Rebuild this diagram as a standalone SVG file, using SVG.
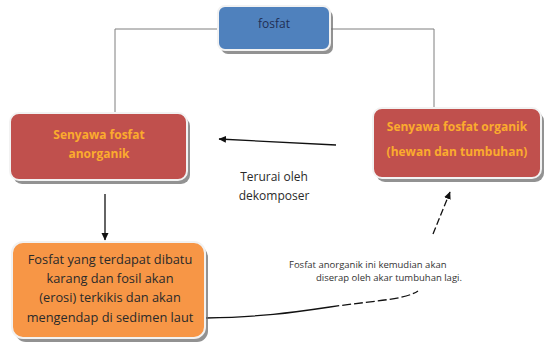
<svg xmlns="http://www.w3.org/2000/svg" width="545" height="349" viewBox="0 0 545 349">
<defs>
<style>
.shadow{fill:#6d6d6d;opacity:0.75}
.box{stroke:#f2f2f2;stroke-width:2}
.blue{fill:#4f81bd}
.red{fill:#c0504d}
.orange{fill:#f79646}
.line{fill:none;stroke:#7f7f7f;stroke-width:1}
.arrow{fill:none;stroke:#111;stroke-width:1.3}
.t{font-family:"Open Sans","Liberation Sans",sans-serif}
.redtxt{fill:#fbab2e;font-size:12px;font-weight:bold}
.dark{fill:#2a2a2a}
</style>
<marker id="ah" markerWidth="8" markerHeight="8" refX="7" refY="4" orient="auto" markerUnits="userSpaceOnUse">
<path d="M0,0.5 L7.5,4 L0,7.5 Z" fill="#111"/>
</marker>
</defs>
<rect width="545" height="349" fill="#ffffff"/>

<g id="connectors">
<polyline class="line" points="218,29 115,29 115,114"/>
<polyline class="line" points="330,29 434,29 434,108"/>
<line class="arrow" x1="105" y1="194" x2="105" y2="240" marker-end="url(#ah)"/>
<line class="arrow" x1="336" y1="145" x2="219" y2="139" marker-end="url(#ah)"/>
<line class="arrow" x1="433" y1="234" x2="450" y2="192" stroke-dasharray="7 3" marker-end="url(#ah)"/>
<path class="arrow" d="M206,318 C260,317 290,313 330,307"/>
<path class="arrow" d="M330,307 C370,301 405,300 418,291" stroke-dasharray="9 3"/>
</g>

<g id="node-fosfat">
<rect class="shadow" x="221" y="10" width="112" height="44" rx="7"/>
<rect class="box blue" x="218" y="6" width="112" height="44" rx="7"/>
<text class="t" x="274" y="28" text-anchor="middle" font-size="12" fill="#1f2f55">fosfat</text>
</g>

<g id="node-anorganik">
<rect class="shadow" x="13" y="117" width="177" height="67" rx="9"/>
<rect class="box red" x="10" y="113" width="177" height="67" rx="9"/>
<text class="t redtxt" x="99" y="139" text-anchor="middle">Senyawa fosfat</text>
<text class="t redtxt" x="99" y="158" text-anchor="middle">anorganik</text>
</g>

<g id="node-organik">
<rect class="shadow" x="376" y="112" width="168" height="70" rx="9"/>
<rect class="box red" x="373" y="108" width="168" height="70" rx="9"/>
<text class="t redtxt" x="457" y="131" text-anchor="middle" font-size="12.5">Senyawa fosfat organik</text>
<text class="t redtxt" x="457" y="156" text-anchor="middle" font-size="12.5">(hewan dan tumbuhan)</text>
</g>

<g id="node-sedimen">
<rect class="shadow" x="15" y="246" width="193" height="96" rx="11"/>
<rect class="box orange" x="12" y="242" width="193" height="96" rx="11"/>
<text class="t dark" x="110" y="264" text-anchor="middle" font-size="12.8">Fosfat yang terdapat dibatu</text>
<text class="t dark" x="110" y="283" text-anchor="middle" font-size="12.8">karang dan fosil akan</text>
<text class="t dark" x="110" y="302" text-anchor="middle" font-size="12.8">(erosi) terkikis dan akan</text>
<text class="t dark" x="110" y="322" text-anchor="middle" font-size="12.8">mengendap di sedimen laut</text>
</g>

<g id="label-dekomposer">
<text class="t dark" x="274" y="181" text-anchor="middle" font-size="12">Terurai oleh</text>
<text class="t dark" x="274" y="200" text-anchor="middle" font-size="12">dekomposer</text>
</g>

<g id="label-diserap">
<text class="t" x="289" y="268" font-size="9.5" fill="#333">Fosfat anorganik ini kemudian akan</text>
<text class="t" x="316" y="281" font-size="9.5" fill="#333">diserap oleh akar tumbuhan lagi.</text>
</g>
</svg>
